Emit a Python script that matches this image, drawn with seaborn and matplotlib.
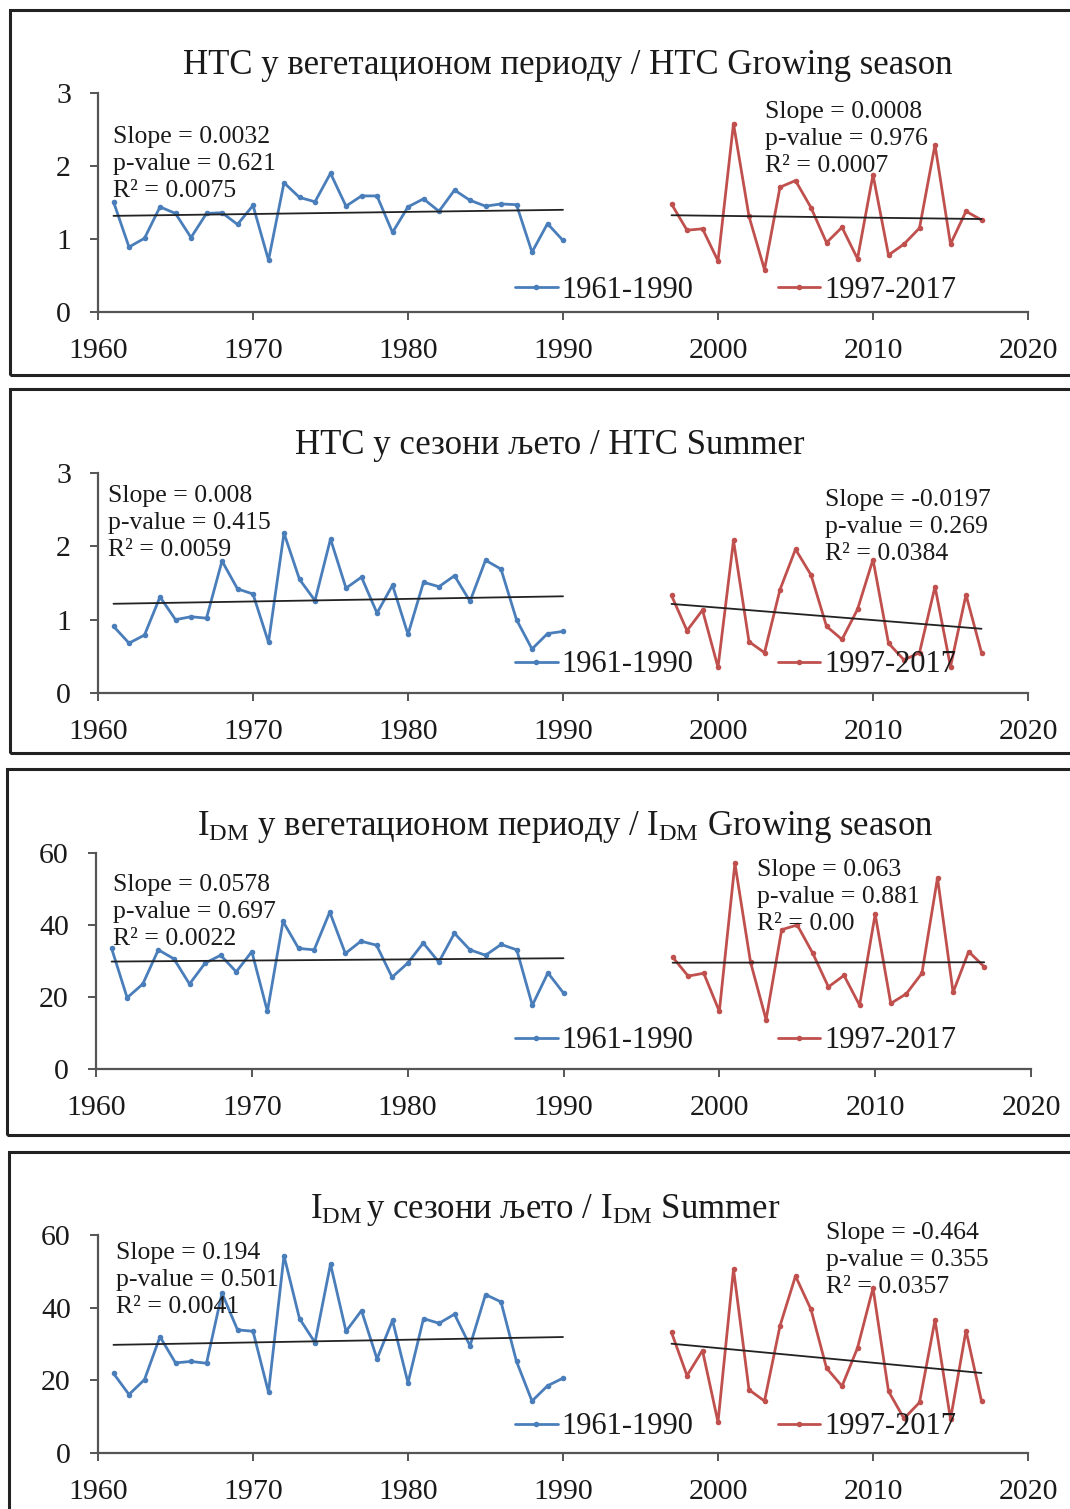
import matplotlib
matplotlib.use("Agg")
import matplotlib.pyplot as plt
import seaborn as sns
import numpy as np
from matplotlib.patches import Rectangle

# ---- data -------------------------------------------------------------
years_a = list(range(1961, 1991))
years_b = list(range(1997, 2018))
series_labels = ["1961-1990", "1997-2017"]

htc_gs_a = [1.51, 0.89, 1.01, 1.44, 1.35, 1.02, 1.35, 1.36, 1.20, 1.46,
            0.71, 1.77, 1.57, 1.51, 1.90, 1.45, 1.59, 1.59, 1.09, 1.44,
            1.55, 1.38, 1.67, 1.53, 1.45, 1.48, 1.47, 0.82, 1.21, 0.98]
htc_gs_b = [1.48, 1.12, 1.14, 0.70, 2.58, 1.31, 0.58, 1.71, 1.80, 1.43,
            0.95, 1.16, 0.73, 1.88, 0.78, 0.93, 1.15, 2.29, 0.93, 1.38, 1.26]

htc_su_a = [0.91, 0.68, 0.79, 1.31, 1.00, 1.04, 1.02, 1.80, 1.42, 1.35,
            0.69, 2.18, 1.55, 1.26, 2.10, 1.43, 1.58, 1.09, 1.47, 0.80,
            1.51, 1.45, 1.60, 1.25, 1.81, 1.69, 1.00, 0.60, 0.81, 0.84]
htc_su_b = [1.33, 0.85, 1.13, 0.35, 2.08, 0.70, 0.55, 1.41, 1.96, 1.61,
            0.91, 0.73, 1.14, 1.82, 0.68, 0.45, 0.55, 1.45, 0.36, 1.34, 0.55]

idm_gs_a = [33.5, 19.8, 23.6, 33.1, 30.6, 23.6, 29.4, 31.6, 27.0, 32.6,
            16.0, 41.0, 33.5, 33.1, 43.6, 32.1, 35.5, 34.4, 25.5, 29.4,
            35.0, 29.7, 37.7, 33.1, 31.6, 34.6, 33.1, 17.7, 26.7, 21.1]
idm_gs_b = [31.1, 25.8, 26.6, 16.0, 57.1, 29.7, 13.7, 38.7, 40.0, 32.1,
            22.8, 26.0, 17.7, 43.0, 18.2, 20.9, 26.6, 53.1, 21.3, 32.6, 28.4]

idm_su_a = [21.9, 16.1, 20.2, 32.0, 24.8, 25.2, 24.7, 44.0, 33.9, 33.5,
            16.7, 54.3, 37.0, 30.4, 52.0, 33.5, 39.2, 25.9, 36.5, 19.3,
            37.0, 35.7, 38.2, 29.5, 43.6, 41.6, 25.2, 14.3, 18.5, 20.6]
idm_su_b = [33.2, 21.3, 28.2, 8.5, 50.6, 17.4, 14.3, 35.0, 48.7, 39.5,
            23.4, 18.4, 28.9, 45.4, 17.0, 9.5, 13.9, 36.6, 9.3, 33.7, 14.3]

titles = [
    "HTC у вегетационом периоду / HTC Growing season",
    "HTC у сезони љето / HTC Summer",
    r"$\mathrm{I}_{\mathrm{DM}}$ у вегетационом периоду / $\mathrm{I}_{\mathrm{DM}}$ Growing season",
    r"$\mathrm{I}_{\mathrm{DM}}\,$у сезони љето / $\mathrm{I}_{\mathrm{DM}}$ Summer",
]

# trend statistics (Sen's slope, p-value, R² of the linear fit) per period
stats_a = [("0.0032", "0.621", "0.0075"), ("0.008", "0.415", "0.0059"),
           ("0.0578", "0.697", "0.0022"), ("0.194", "0.501", "0.0041")]
stats_b = [("0.0008", "0.976", "0.0007"), ("-0.0197", "0.269", "0.0384"),
           ("0.063", "0.881", "0.00"), ("-0.464", "0.355", "0.0357")]

series_a = [htc_gs_a, htc_su_a, idm_gs_a, idm_su_a]
series_b = [htc_gs_b, htc_su_b, idm_gs_b, idm_su_b]
y_max = [3, 3, 60, 60]
y_step = [1, 1, 20, 20]

# ---- style ------------------------------------------------------------
sns.set_theme(style="white")
plt.rcParams["font.family"] = ["Liberation Serif", "DejaVu Serif"]
plt.rcParams["mathtext.fontset"] = "custom"
plt.rcParams["mathtext.rm"] = "Liberation Serif"
plt.rcParams["mathtext.it"] = "Liberation Serif:italic"
plt.rcParams["mathtext.bf"] = "Liberation Serif:bold"

BLUE = "#4A7EBB"
RED = "#C0504D"
TXT = "#1a1a1a"
AXC = "#555555"

W, H = 1070, 1509
fig = plt.figure(figsize=(W / 100, H / 100), dpi=100)
fig.patch.set_facecolor("white")


def fx(px):
    return px / W


def fy(py):
    return 1 - py / H


# panel layout in pixels
frames = [(10, 10, 375), (10, 389, 753), (7, 769, 1135), (9, 1152, 1530)]
axes_x = [(98, 1028), (98, 1028), (96, 1031), (98, 1028)]
axes_y = [(93, 312), (473, 693), (853, 1069), (1235, 1453)]
title_pos = [(568, 66), (550, 446), (565, 827), (545, 1210)]
text_a_pos = [(113, 137), (108, 496), (113, 885), (116, 1253)]
text_b_pos = [(765, 112), (825, 500), (757, 870), (826, 1233)]
legend_y = [290, 665, 1041, 1427]

for i in range(4):
    x0, top, bottom = frames[i]
    fig.patches.append(Rectangle((fx(x0), fy(bottom)), fx(W + 20 - x0),
                                 fy(top) - fy(bottom), transform=fig.transFigure,
                                 fill=False, edgecolor="#222222", linewidth=2.2,
                                 zorder=0))

    (l, r), (t, b) = axes_x[i], axes_y[i]
    ax = fig.add_axes([fx(l), fy(b), fx(r) - fx(l), fy(t) - fy(b)])
    ax.set_facecolor("none")

    sns.lineplot(x=years_a, y=series_a[i], ax=ax, color=BLUE, linewidth=2.0,
                 marker="o", markersize=4, markeredgewidth=0,
                 label=series_labels[0])
    sns.lineplot(x=years_b, y=series_b[i], ax=ax, color=RED, linewidth=2.0,
                 marker="o", markersize=4, markeredgewidth=0,
                 label=series_labels[1])

    # least-squares linear trend of each period
    for yrs, vals in ((years_a, series_a[i]), (years_b, series_b[i])):
        sns.regplot(x=yrs, y=vals, ax=ax, scatter=False, ci=None,
                    truncate=True,
                    line_kws=dict(color="#222222", linewidth=1.3, zorder=3))

    ax.set_xlim(1960, 2020)
    ax.set_ylim(0, y_max[i])
    ax.set_xticks(range(1960, 2021, 10))
    ax.set_yticks(np.arange(0, y_max[i] + 0.1, y_step[i]))
    ax.set_xlabel("")
    ax.set_ylabel("")
    for s in ("top", "right"):
        ax.spines[s].set_visible(False)
    for s in ("left", "bottom"):
        ax.spines[s].set_color(AXC)
        ax.spines[s].set_linewidth(1.6)
    ax.tick_params(axis="both", which="major", direction="out", length=6,
                   width=1.4, color=AXC, labelsize=21.5, labelcolor=TXT,
                   bottom=True, left=True)
    ax.tick_params(axis="x", pad=12.5)
    ax.tick_params(axis="y", pad=13.5)

    handles, labels = ax.get_legend_handles_labels()
    ax.legend(handles, labels, loc="center left", ncol=2, frameon=False,
              bbox_to_anchor=(fx(515), fy(legend_y[i])),
              bbox_transform=fig.transFigure, fontsize=22, handlelength=1.4,
              handletextpad=0.13, columnspacing=2.75, borderpad=0,
              borderaxespad=0, labelcolor=TXT)

    tx, ty = title_pos[i]
    fig.text(fx(tx), fy(ty), titles[i], ha="center", va="center",
             fontsize=25, color=TXT)

    for pos, st in ((text_a_pos[i], stats_a[i]), (text_b_pos[i], stats_b[i])):
        px, py = pos
        lines = [f"Slope = {st[0]}", f"p-value = {st[1]}", f"R² = {st[2]}"]
        for k, line in enumerate(lines):
            fig.text(fx(px), fy(py + 27 * k), line, ha="left", va="center",
                     fontsize=18.5, color=TXT, zorder=5)

fig.savefig("out.png", dpi=100, facecolor="white")
